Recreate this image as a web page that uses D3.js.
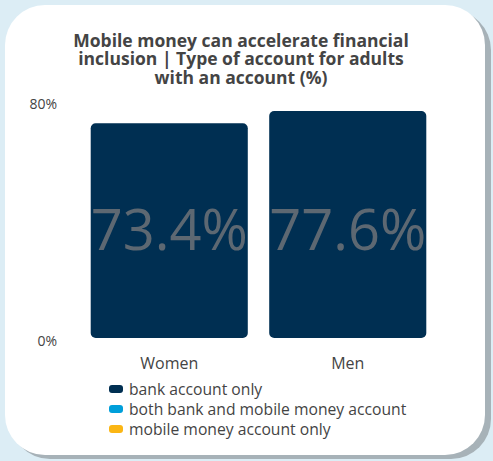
<!DOCTYPE html>
<html>
<head>
<meta charset="utf-8">
<script src="https://cdn.jsdelivr.net/npm/d3@7"></script>
<style>
  html, body { margin: 0; padding: 0; background: #dcedf5; }
  svg { display: block; font-family: "Open Sans", sans-serif; }
</style>
</head>
<body>
<svg id="chart" width="493" height="461"></svg>
<script>
// Account ownership by gender (% of adults with an account)
const categories = ["Women", "Men"];
const bankOnly = [73.4, 77.6];
const bothAccounts = [0, 0];
const mobileOnly = [0, 0];
const seriesNames = ["bank account only", "both bank and mobile money account", "mobile money account only"];
const seriesColors = ["#002f52", "#009fda", "#fbb614"];
const tickValues = [0, 80];
const titleLines = ["Mobile money can accelerate financial", "inclusion | Type of account for adults", "with an account (%)"];

const svg = d3.select("#chart");

// Card with drop shadow
svg.append("rect").attr("x", 10).attr("y", 10).attr("width", 481).attr("height", 449)
  .attr("rx", 40).attr("fill", "#a7b2b8");
svg.append("rect").attr("x", 5).attr("y", 5).attr("width", 480).attr("height", 450)
  .attr("rx", 40).attr("fill", "#ffffff");

// Title
svg.append("text").attr("x", 241).attr("y", 47)
  .attr("text-anchor", "middle").attr("font-size", 17.5).attr("font-weight", 700).attr("fill", "#444")
  .selectAll("tspan").data(titleLines).join("tspan")
  .attr("x", 241).attr("dy", (d, i) => i === 0 ? 0 : 18.4).text(d => d);

const x = d3.scaleBand().domain(categories).range([80, 437]).paddingInner(0.12).paddingOuter(0.06);
const y = d3.scaleLinear().domain([0, 80]).range([338, 104]);

// Stack the three account types
const rows = categories.map((c, i) => ({ cat: c, s0: bankOnly[i], s1: bothAccounts[i], s2: mobileOnly[i] }));
const stack = d3.stack().keys(["s0", "s1", "s2"])(rows);

const g = svg.append("g");
stack.forEach((layer, k) => {
  g.selectAll(null).data(layer.filter(d => d[1] - d[0] > 0)).join("rect")
    .attr("x", d => x(d.data.cat))
    .attr("y", d => y(d[1]))
    .attr("width", x.bandwidth())
    .attr("height", d => y(d[0]) - y(d[1]))
    .attr("rx", 5)
    .attr("fill", seriesColors[k]);
});

// Value labels inside bars
g.selectAll(".val").data(rows).join("text")
  .attr("x", d => x(d.cat) + x.bandwidth() / 2)
  .attr("y", 250)
  .attr("text-anchor", "middle").attr("font-size", 56).attr("fill", "#5d6872")
  .text(d => d.s0.toFixed(1) + "%");

// Y axis tick labels
const yAxis = d3.axisLeft(y).tickValues(tickValues).tickFormat(d => d + "%").tickSize(0).tickPadding(0);
const ya = svg.append("g").attr("transform", "translate(57,0)").call(yAxis);
ya.select(".domain").remove();
ya.selectAll("text").attr("font-size", 14).attr("fill", "#444").attr("font-family", "Open Sans")
  .attr("dy", "0.32em");
ya.selectAll(".tick").filter(d => d === 0).select("text").attr("transform", "translate(0,3)");

// X axis category labels
const xAxis = d3.axisBottom(x).tickSize(0).tickPadding(0);
const xa = svg.append("g").attr("transform", "translate(0,369)").call(xAxis);
xa.select(".domain").remove();
xa.selectAll("text").attr("font-size", 16).attr("fill", "#444").attr("font-family", "Open Sans")
  .attr("dy", 0);

// Legend
const legend = svg.append("g").attr("transform", "translate(109,389)");
const items = legend.selectAll("g").data(seriesNames).join("g")
  .attr("transform", (d, i) => `translate(0,${i * 20})`);
items.append("rect").attr("x", 0).attr("y", -4).attr("width", 14).attr("height", 8).attr("rx", 3)
  .attr("fill", (d, i) => seriesColors[i]);
items.append("text").attr("x", 20).attr("y", 6)
  .attr("font-size", 15.7).attr("fill", "#444").text(d => d);
</script>
</body>
</html>
